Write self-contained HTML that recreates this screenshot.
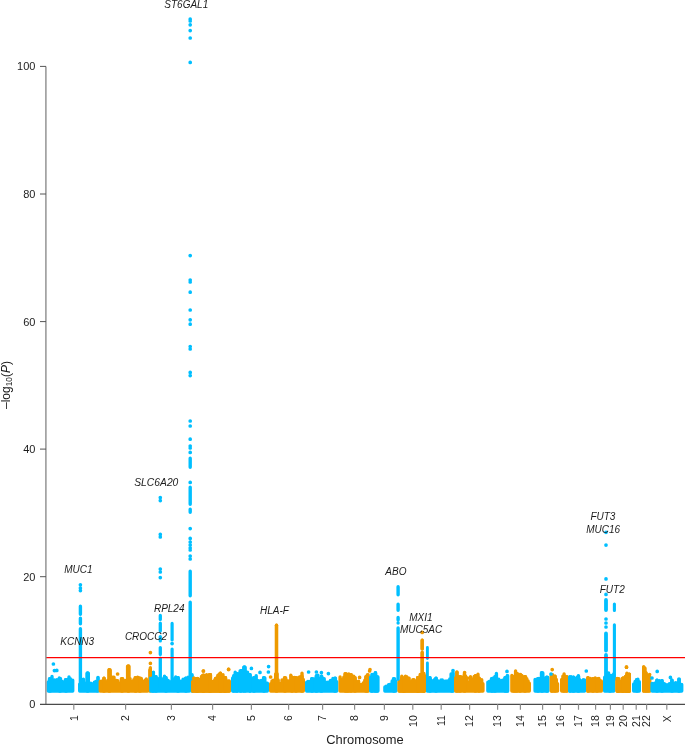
<!DOCTYPE html>
<html><head><meta charset="utf-8"><title>Manhattan plot</title>
<style>html,body{margin:0;padding:0;background:#fff}svg{display:block}text{font-family:"Liberation Sans",Arial,sans-serif;fill:#1c1c1c}.g{font-style:italic;font-size:10px;text-anchor:middle}.t{font-size:10.5px;text-anchor:end}.y{font-size:11px;text-anchor:end}</style></head><body>
<svg width="685" height="744" viewBox="0 0 685 744">
<rect width="685" height="744" fill="#fff"/>
<path d="M48.3 681.9V691.1M49.5 678.8V691.1M50.7 678.9V691.1M52.0 676.4V691.1M53.2 679.9V691.1M54.4 679.9V691.1M55.6 680.9V691.1M56.8 679.6V691.1M58.1 680.2V691.1M59.3 678.0V691.1M60.5 678.8V691.1M61.7 681.2V691.1M62.9 682.1V691.1M64.2 681.7V691.1M65.4 679.8V691.1M66.6 679.8V691.1M67.8 681.0V691.1M69.0 677.0V691.1M70.3 678.7V691.1M71.5 682.0V691.1M72.7 680.3V691.1M79.7 684.1V691.1M80.9 684.5V691.1M82.2 684.3V691.1M83.4 679.1V691.1M84.6 683.3V691.1M85.8 684.4V691.1M87.1 673.2V691.1M88.3 673.3V691.1M89.5 683.6V691.1M90.8 683.3V691.1M92.0 684.7V691.1M93.2 683.8V691.1M94.4 682.2V691.1M95.7 681.5V691.1M96.9 682.0V691.1" stroke="#00BFFF" stroke-width="3.4" stroke-linecap="round" fill="none"/>
<path d="M87.6 673.2V690.9M98.0 677.5V690.9M50.0 678.9V690.9M60.0 678.9V690.9M66.0 679.9V690.9" stroke="#00BFFF" stroke-width="3.7" stroke-linecap="round" fill="none"/>
<path d="M100.3 681.4V691.1M101.5 681.1V691.1M102.8 681.0V691.1M104.0 678.2V691.1M105.3 681.6V691.1M106.5 681.6V691.1M107.8 680.2V691.1M109.0 669.8V691.1M110.2 669.9V691.1M111.5 682.2V691.1M112.7 677.2V691.1M114.0 677.2V691.1M115.2 680.9V691.1M116.4 680.4V691.1M117.7 680.6V691.1M118.9 683.2V691.1M120.2 683.8V691.1M121.4 678.8V691.1M122.7 678.8V691.1M123.9 682.7V691.1M125.1 680.8V691.1M126.4 680.3V691.1M127.6 666.3V691.1M128.9 666.2V691.1M130.1 678.7V691.1M131.4 681.4V691.1M132.6 681.6V691.1M133.8 679.7V691.1M135.1 677.8V691.1M136.3 677.9V691.1M137.6 677.2V691.1M138.8 677.7V691.1M140.0 678.2V691.1M141.3 678.5V691.1M142.5 681.6V691.1M143.8 681.8V691.1M145.0 680.1V691.1M146.3 678.9V691.1M147.5 680.9V691.1" stroke="#EE9A00" stroke-width="3.4" stroke-linecap="round" fill="none"/>
<path d="M109.4 669.9V690.9M128.4 666.2V690.9M135.6 677.9V690.9M150.0 669.9V690.9M104.0 678.4V690.9M140.0 678.4V690.9M122.0 678.9V690.9" stroke="#EE9A00" stroke-width="3.7" stroke-linecap="round" fill="none"/>
<path d="M150.9 674.4V691.1M152.1 674.4V691.1M153.4 672.1V691.1M154.6 677.2V691.1M155.9 676.7V691.1M157.1 678.7V691.1M158.3 678.6V691.1M159.6 679.1V691.1M160.8 681.1V691.1M162.0 679.0V691.1M163.3 680.2V691.1M164.5 676.3V691.1M165.8 677.7V691.1M167.0 681.2V691.1M168.2 680.4V691.1M169.5 681.9V691.1M170.7 681.6V691.1M172.0 681.0V691.1M173.2 680.5V691.1M174.4 678.7V691.1M175.7 676.9V691.1M176.9 680.8V691.1M178.2 677.7V691.1M179.4 681.1V691.1M180.6 681.2V691.1M181.9 681.6V691.1M183.1 679.2V691.1M184.3 679.6V691.1M185.6 678.3V691.1M186.8 678.4V691.1M188.1 677.3V691.1M189.3 677.9V691.1" stroke="#00BFFF" stroke-width="3.4" stroke-linecap="round" fill="none"/>
<path d="M153.0 674.4V690.9M156.0 676.9V690.9M166.0 677.9V690.9M178.0 677.9V690.9M186.0 678.4V690.9M192.0 674.9V690.9" stroke="#00BFFF" stroke-width="3.7" stroke-linecap="round" fill="none"/>
<path d="M192.7 681.7V691.1M194.0 681.8V691.1M195.2 681.4V691.1M196.5 678.7V691.1M197.7 678.5V691.1M199.0 681.2V691.1M200.3 679.3V691.1M201.5 678.9V691.1M202.8 675.4V691.1M204.1 675.4V691.1M205.3 679.0V691.1M206.6 674.7V691.1M207.8 675.5V691.1M209.1 675.0V691.1M210.4 674.7V691.1M211.6 681.4V691.1M212.9 681.5V691.1M214.2 680.8V691.1M215.4 678.4V691.1M216.7 678.0V691.1M217.9 675.2V691.1M219.2 674.3V691.1M220.5 676.2V691.1M221.7 679.3V691.1M223.0 679.6V691.1M224.3 677.9V691.1M225.5 677.8V691.1M226.8 681.6V691.1M228.0 680.9V691.1M229.3 681.0V691.1" stroke="#EE9A00" stroke-width="3.4" stroke-linecap="round" fill="none"/>
<path d="M203.4 675.4V690.9M210.0 674.9V690.9M220.4 676.4V690.9M225.0 677.9V690.9M197.0 678.9V690.9" stroke="#EE9A00" stroke-width="3.7" stroke-linecap="round" fill="none"/>
<path d="M232.7 678.0V691.1M233.9 675.7V691.1M235.2 672.3V691.1M236.4 673.8V691.1M237.6 673.8V691.1M238.9 674.2V691.1M240.1 671.0V691.1M241.3 670.7V691.1M242.6 673.9V691.1M243.8 667.2V691.1M245.1 667.3V691.1M246.3 673.0V691.1M247.5 672.1V691.1M248.8 677.4V691.1M250.0 674.7V691.1M251.2 678.8V691.1M252.5 679.6V691.1M253.7 677.7V691.1M254.9 678.0V691.1M256.2 675.7V691.1M257.4 680.6V691.1M258.6 680.6V691.1M259.9 682.5V691.1M261.1 680.4V691.1M262.4 682.6V691.1M263.6 677.8V691.1M264.8 677.9V691.1M266.1 682.9V691.1M267.3 683.1V691.1" stroke="#00BFFF" stroke-width="3.4" stroke-linecap="round" fill="none"/>
<path d="M244.4 667.2V690.9M241.0 670.9V690.9M237.0 673.9V690.9M234.0 675.9V690.9M250.0 674.9V690.9M254.0 677.9V690.9M264.0 677.9V690.9" stroke="#00BFFF" stroke-width="3.7" stroke-linecap="round" fill="none"/>
<path d="M270.7 683.8V691.1M272.0 681.0V691.1M273.2 680.1V691.1M274.5 681.5V691.1M275.7 673.9V691.1M277.0 673.8V691.1M278.2 679.9V691.1M279.5 684.4V691.1M280.7 683.4V691.1M282.0 680.0V691.1M283.2 681.7V691.1M284.5 677.8V691.1M285.7 677.9V691.1M287.0 681.0V691.1M288.3 680.9V691.1M289.5 681.0V691.1M290.8 675.2V691.1M292.0 677.2V691.1M293.3 677.6V691.1M294.5 677.5V691.1M295.8 677.7V691.1M297.0 678.0V691.1M298.3 677.8V691.1M299.5 677.0V691.1M300.8 676.6V691.1M302.0 673.2V691.1M303.3 679.5V691.1" stroke="#EE9A00" stroke-width="3.4" stroke-linecap="round" fill="none"/>
<path d="M276.5 673.9V690.9M285.0 677.9V690.9M292.0 677.4V690.9M296.0 677.9V690.9M302.0 676.4V690.9" stroke="#EE9A00" stroke-width="3.7" stroke-linecap="round" fill="none"/>
<path d="M306.7 682.2V691.1M307.9 681.5V691.1M309.2 681.5V691.1M310.4 683.5V691.1M311.7 678.7V691.1M312.9 679.0V691.1M314.2 678.9V691.1M315.4 680.9V691.1M316.7 675.7V691.1M317.9 675.1V691.1M319.2 680.8V691.1M320.4 678.5V691.1M321.7 676.2V691.1M322.9 678.7V691.1M324.2 678.8V691.1M325.4 682.2V691.1M326.7 682.4V691.1M327.9 682.2V691.1M329.2 682.5V691.1M330.4 680.4V691.1M331.7 681.2V691.1M332.9 678.4V691.1M334.2 678.4V691.1M335.4 678.3V691.1M336.7 681.7V691.1" stroke="#00BFFF" stroke-width="3.4" stroke-linecap="round" fill="none"/>
<path d="M316.4 675.9V690.9M321.4 676.4V690.9M312.0 678.9V690.9M335.0 678.4V690.9" stroke="#00BFFF" stroke-width="3.7" stroke-linecap="round" fill="none"/>
<path d="M340.1 676.9V691.1M341.3 680.5V691.1M342.6 679.7V691.1M343.8 677.2V691.1M345.0 673.8V691.1M346.3 673.9V691.1M347.5 676.8V691.1M348.8 674.0V691.1M350.0 676.9V691.1M351.2 674.7V691.1M352.5 676.5V691.1M353.7 676.1V691.1M354.9 677.7V691.1M356.2 681.4V691.1M357.4 683.0V691.1M358.6 681.3V691.1M359.9 684.5V691.1M361.1 684.4V691.1M362.4 684.2V691.1M363.6 682.6V691.1M364.8 680.3V691.1M366.1 676.7V691.1M367.3 674.9V691.1" stroke="#EE9A00" stroke-width="3.4" stroke-linecap="round" fill="none"/>
<path d="M345.6 673.9V690.9M351.0 674.9V690.9M348.0 676.9V690.9M355.0 677.9V690.9M366.0 676.9V690.9M368.0 674.9V690.9" stroke="#EE9A00" stroke-width="3.7" stroke-linecap="round" fill="none"/>
<path d="M370.7 677.1V691.1M371.9 674.5V691.1M373.1 674.4V691.1M374.3 678.3V691.1M375.5 672.7V691.1M376.7 676.7V691.1M377.9 677.0V691.1M384.9 687.0V691.1M386.1 686.3V691.1M387.3 686.1V691.1M388.6 684.6V691.1M389.8 684.4V691.1M391.0 684.2V691.1M392.2 681.0V691.1M393.5 678.8V691.1M394.7 678.9V691.1M395.9 681.3V691.1" stroke="#00BFFF" stroke-width="3.4" stroke-linecap="round" fill="none"/>
<path d="M375.4 672.9V690.9M372.0 676.9V690.9M377.0 676.9V690.9M394.0 678.9V690.9" stroke="#00BFFF" stroke-width="3.7" stroke-linecap="round" fill="none"/>
<path d="M399.3 680.9V691.1M400.5 680.9V691.1M401.8 678.0V691.1M403.0 681.3V691.1M404.2 677.8V691.1M405.5 681.6V691.1M406.7 681.1V691.1M407.9 678.0V691.1M409.1 678.3V691.1M410.4 682.2V691.1M411.6 682.8V691.1M412.8 679.8V691.1M414.1 679.7V691.1M415.3 681.7V691.1M416.5 681.2V691.1M417.8 677.7V691.1M419.0 680.1V691.1M420.2 674.4V691.1M421.4 678.8V691.1M422.7 678.9V691.1M423.9 673.4V691.1" stroke="#EE9A00" stroke-width="3.4" stroke-linecap="round" fill="none"/>
<path d="M404.0 678.9V690.9M418.0 677.9V690.9M424.0 675.9V690.9" stroke="#EE9A00" stroke-width="3.7" stroke-linecap="round" fill="none"/>
<path d="M427.3 678.1V691.1M428.6 679.4V691.1M429.8 677.7V691.1M431.1 680.1V691.1M432.3 680.9V691.1M433.6 680.9V691.1M434.8 679.2V691.1M436.1 678.2V691.1M437.3 680.5V691.1M438.6 681.4V691.1M439.8 681.2V691.1M441.1 679.9V691.1M442.3 679.9V691.1M443.6 681.3V691.1M444.8 681.2V691.1M446.1 681.3V691.1M447.3 681.0V691.1M448.6 681.1V691.1M449.8 678.9V691.1M451.1 674.0V691.1M452.3 675.7V691.1" stroke="#00BFFF" stroke-width="3.4" stroke-linecap="round" fill="none"/>
<path d="M430.0 677.9V690.9M436.0 678.4V690.9M452.0 675.9V690.9M453.0 672.9V690.9" stroke="#00BFFF" stroke-width="3.7" stroke-linecap="round" fill="none"/>
<path d="M455.7 677.7V691.1M456.9 672.0V691.1M458.2 678.7V691.1M459.4 676.8V691.1M460.6 676.8V691.1M461.9 677.3V691.1M463.1 677.5V691.1M464.4 673.7V691.1M465.6 676.1V691.1M466.8 679.7V691.1M468.1 683.1V691.1M469.3 682.1V691.1M470.5 676.6V691.1M471.8 679.0V691.1M473.0 678.9V691.1M474.2 676.5V691.1M475.5 675.7V691.1M476.7 676.2V691.1M478.0 674.3V691.1M479.2 678.2V691.1M480.4 680.8V691.1M481.7 679.8V691.1M482.9 683.8V691.1" stroke="#EE9A00" stroke-width="3.4" stroke-linecap="round" fill="none"/>
<path d="M457.0 674.9V690.9M460.0 676.9V690.9M464.6 674.9V690.9M475.4 675.9V690.9M479.0 678.4V690.9" stroke="#EE9A00" stroke-width="3.7" stroke-linecap="round" fill="none"/>
<path d="M487.9 682.1V691.1M489.1 681.4V691.1M490.3 681.2V691.1M491.5 678.8V691.1M492.8 678.2V691.1M494.0 678.1V691.1M495.2 676.7V691.1M496.4 673.5V691.1M497.6 680.2V691.1M498.8 679.2V691.1M500.0 682.8V691.1M501.2 680.7V691.1M502.4 680.2V691.1M503.7 680.9V691.1M504.9 677.8V691.1M506.1 677.9V691.1M507.3 675.7V691.1" stroke="#00BFFF" stroke-width="3.4" stroke-linecap="round" fill="none"/>
<path d="M495.0 676.9V690.9M492.0 678.9V690.9M505.4 677.9V690.9M507.5 675.9V690.9" stroke="#00BFFF" stroke-width="3.7" stroke-linecap="round" fill="none"/>
<path d="M511.9 675.4V691.1M513.1 676.9V691.1M514.4 676.7V691.1M515.6 671.0V691.1M516.9 673.4V691.1M518.1 673.9V691.1M519.4 678.6V691.1M520.6 674.4V691.1M521.8 675.5V691.1M523.1 679.5V691.1M524.3 676.8V691.1M525.6 676.8V691.1M526.8 678.7V691.1M528.1 681.0V691.1M529.3 683.2V691.1" stroke="#EE9A00" stroke-width="3.4" stroke-linecap="round" fill="none"/>
<path d="M516.6 673.9V690.9M514.0 676.9V690.9M525.0 676.9V690.9M520.0 678.9V690.9" stroke="#EE9A00" stroke-width="3.7" stroke-linecap="round" fill="none"/>
<path d="M535.1 679.5V691.1M536.4 681.4V691.1M537.7 678.7V691.1M538.9 678.4V691.1M540.2 678.7V691.1M541.5 672.8V691.1M542.8 672.9V691.1M544.1 677.9V691.1M545.3 679.2V691.1M546.6 677.2V691.1M547.9 677.5V691.1" stroke="#00BFFF" stroke-width="3.4" stroke-linecap="round" fill="none"/>
<path d="M542.0 672.9V690.9M538.0 678.9V690.9M547.0 677.4V690.9" stroke="#00BFFF" stroke-width="3.7" stroke-linecap="round" fill="none"/>
<path d="M551.3 674.9V691.1M552.5 674.8V691.1M553.8 679.2V691.1M555.0 676.2V691.1M556.3 679.5V691.1M557.5 683.8V691.1M561.7 679.4V691.1M562.9 676.1V691.1M564.1 673.9V691.1M565.3 678.8V691.1M566.5 676.8V691.1" stroke="#EE9A00" stroke-width="3.4" stroke-linecap="round" fill="none"/>
<path d="M555.0 676.4V690.9M552.0 674.9V690.9M564.0 676.4V690.9M567.0 676.9V690.9" stroke="#EE9A00" stroke-width="3.7" stroke-linecap="round" fill="none"/>
<path d="M569.9 676.7V691.1M571.1 676.7V691.1M572.3 678.4V691.1M573.6 677.2V691.1M574.8 679.2V691.1M576.0 678.2V691.1M577.2 677.1V691.1M578.4 675.7V691.1M579.6 679.7V691.1M580.9 680.8V691.1M582.1 681.3V691.1M583.3 679.8V691.1M584.5 679.9V691.1" stroke="#00BFFF" stroke-width="3.4" stroke-linecap="round" fill="none"/>
<path d="M573.4 677.4V690.9M578.4 676.4V690.9M570.0 677.4V690.9" stroke="#00BFFF" stroke-width="3.7" stroke-linecap="round" fill="none"/>
<path d="M587.9 677.7V691.1M589.1 678.8V691.1M590.3 678.4V691.1M591.6 680.9V691.1M592.8 678.7V691.1M594.0 679.9V691.1M595.2 678.0V691.1M596.4 679.3V691.1M597.6 678.6V691.1M598.9 678.4V691.1M600.1 680.4V691.1M601.3 680.9V691.1" stroke="#EE9A00" stroke-width="3.4" stroke-linecap="round" fill="none"/>
<path d="M588.0 677.9V690.9M593.0 678.9V690.9M597.0 679.4V690.9" stroke="#EE9A00" stroke-width="3.7" stroke-linecap="round" fill="none"/>
<path d="M604.7 677.3V691.1M606.0 677.0V691.1M607.3 673.1V691.1M608.6 672.9V691.1M609.8 675.7V691.1M611.1 675.5V691.1M612.4 676.9V691.1M613.7 674.0V691.1" stroke="#00BFFF" stroke-width="3.4" stroke-linecap="round" fill="none"/>
<path d="M610.0 675.9V690.9" stroke="#00BFFF" stroke-width="3.7" stroke-linecap="round" fill="none"/>
<path d="M617.1 679.0V691.1M618.3 678.7V691.1M619.5 682.0V691.1M620.8 683.6V691.1M622.0 681.5V691.1M623.2 678.2V691.1M624.4 681.1V691.1M625.6 676.4V691.1M626.9 673.2V691.1M628.1 674.6V691.1M629.3 674.3V691.1" stroke="#EE9A00" stroke-width="3.4" stroke-linecap="round" fill="none"/>
<path d="M629.0 674.5V690.9M626.5 676.4V690.9M623.0 678.4V690.9M618.0 678.9V690.9" stroke="#EE9A00" stroke-width="3.7" stroke-linecap="round" fill="none"/>
<path d="M633.7 683.9V691.1M635.1 681.5V691.1M636.5 679.8V691.1M637.9 679.3V691.1M639.3 681.8V691.1" stroke="#00BFFF" stroke-width="3.4" stroke-linecap="round" fill="none"/>
<path d="M637.0 679.9V690.9" stroke="#00BFFF" stroke-width="3.7" stroke-linecap="round" fill="none"/>
<path d="M643.7 666.6V691.1M645.0 668.2V691.1M646.2 672.9V691.1M647.4 675.7V691.1M648.7 678.2V691.1" stroke="#EE9A00" stroke-width="3.4" stroke-linecap="round" fill="none"/>
<path d="M644.0 667.9V690.9M645.5 672.9V690.9M647.5 675.9V690.9M649.6 676.9V690.9" stroke="#EE9A00" stroke-width="3.7" stroke-linecap="round" fill="none"/>
<path d="M652.1 683.4V691.1M653.3 684.4V691.1M654.6 683.3V691.1M655.8 683.8V691.1M657.0 680.2V691.1M658.3 682.0V691.1M659.5 680.8V691.1M660.7 685.1V691.1M662.0 680.7V691.1M663.2 685.7V691.1M664.4 683.7V691.1M665.7 685.4V691.1M666.9 684.8V691.1M668.1 684.8V691.1M669.4 683.6V691.1M670.6 684.2V691.1M671.8 680.2V691.1M673.1 684.1V691.1M674.3 683.8V691.1M675.5 682.8V691.1M676.8 683.0V691.1M678.0 684.0V691.1M679.2 679.7V691.1M680.5 685.1V691.1M681.7 684.5V691.1" stroke="#00BFFF" stroke-width="3.4" stroke-linecap="round" fill="none"/>
<path d="M657.0 680.4V690.9M662.0 680.9V690.9M672.0 680.4V690.9M679.0 679.9V690.9" stroke="#00BFFF" stroke-width="3.7" stroke-linecap="round" fill="none"/>
<path d="M117.6 674.0h0M150.4 652.6h0M150.4 663.3h0M203.4 671.0h0M228.6 669.4h0M194.0 678.4h0M220.4 673.4h0M270.6 677.0h0M359.6 677.4h0M370.0 669.6h0M369.6 671.0h0M457.0 672.6h0M464.6 672.6h0M467.4 678.0h0M552.2 669.6h0M626.5 667.2h0M649.6 674.6h0" stroke="#EE9A00" stroke-width="3.7" stroke-linecap="round" fill="none"/>
<path d="M53.4 664.0h0M54.4 670.6h0M56.8 670.4h0M251.4 668.4h0M260.0 672.4h0M268.6 666.6h0M268.4 672.0h0M308.6 672.0h0M316.4 672.0h0M321.4 672.6h0M328.4 673.6h0M453.0 670.6h0M507.0 671.4h0M551.0 674.0h0M586.3 671.0h0M657.2 671.4h0M670.4 677.4h0M652.0 678.0h0M679.0 679.0h0" stroke="#00BFFF" stroke-width="3.7" stroke-linecap="round" fill="none"/>
<path d="M190.2 19.2h0M190.2 21.0h0M190.2 24.8h0M190.2 30.6h0M190.2 38.0h0M190.2 62.4h0M190.2 255.6h0M190.2 280.0h0M190.2 282.0h0M190.2 292.2h0M190.2 310.0h0M190.2 319.8h0M190.2 324.2h0M190.2 346.6h0M190.2 349.0h0M190.2 372.4h0M190.2 375.6h0M190.2 421.0h0M190.2 426.0h0M190.2 439.2h0M190.2 446.0h0M190.2 448.0h0M190.2 452.4h0M190.2 482.4h0M190.2 528.6h0M190.2 538.4h0M190.2 542.0h0M190.2 545.0h0M190.2 548.0h0M190.2 550.0h0M190.2 556.0h0M190.2 559.0h0" stroke="#00BFFF" stroke-width="3.7" stroke-linecap="round" fill="none"/>
<path d="M190.2 458.2V467.3M190.2 487.2V504.3M190.2 509.2V512.3M190.2 571.2V595.8M190.2 602.2V679.3" stroke="#00BFFF" stroke-width="3.4" stroke-linecap="round" fill="none"/>
<path d="M160.3 497.6h0M160.3 500.6h0M160.3 534.4h0M160.3 537.0h0M160.3 569.0h0M160.3 572.0h0M160.3 577.6h0" stroke="#00BFFF" stroke-width="3.7" stroke-linecap="round" fill="none"/>
<path d="M160.3 615.4V619.4M160.3 623.2V631.0M160.3 636.6V640.9M160.3 647.6V654.4M160.3 658.1V688.4" stroke="#00BFFF" stroke-width="3.3" stroke-linecap="round" fill="none"/>
<path d="M172.1 643.6h0" stroke="#00BFFF" stroke-width="3.7" stroke-linecap="round" fill="none"/>
<path d="M172.1 623.4V639.9M172.1 649.1V688.4" stroke="#00BFFF" stroke-width="3.2" stroke-linecap="round" fill="none"/>
<path d="M80.4 584.8h0M80.4 588.0h0M80.4 590.6h0" stroke="#00BFFF" stroke-width="3.7" stroke-linecap="round" fill="none"/>
<path d="M80.4 606.3V614.3M80.4 618.2V623.8M80.4 628.7V688.3" stroke="#00BFFF" stroke-width="3.4" stroke-linecap="round" fill="none"/>
<path d="M276.5 625.2V688.4" stroke="#EE9A00" stroke-width="3.3" stroke-linecap="round" fill="none"/>
<path d="M398.1 586.7V594.8M398.1 604.2V610.3M398.1 617.5V619.9M398.1 623.1V623.0M398.1 627.9V679.3" stroke="#00BFFF" stroke-width="3.4" stroke-linecap="round" fill="none"/>
<path d="M422.2 632.4h0" stroke="#EE9A00" stroke-width="3.7" stroke-linecap="round" fill="none"/>
<path d="M422.2 640.2V648.9M422.2 652.4V688.4" stroke="#EE9A00" stroke-width="3.3" stroke-linecap="round" fill="none"/>
<path d="M427.4 647.5V658.5M427.4 663.0V688.5" stroke="#00BFFF" stroke-width="2.9" stroke-linecap="round" fill="none"/>
<path d="M606.0 532.3h0M606.0 545.1h0M606.0 578.9h0M606.0 594.4h0M606.0 619.0h0M606.0 623.0h0M606.0 627.0h0" stroke="#00BFFF" stroke-width="3.7" stroke-linecap="round" fill="none"/>
<path d="M606.0 599.9V610.1M606.0 633.4V650.6M606.0 654.9V688.1" stroke="#00BFFF" stroke-width="3.8" stroke-linecap="round" fill="none"/>
<path d="M614.4 604.0V610.5M614.4 624.8V679.5" stroke="#00BFFF" stroke-width="3.1" stroke-linecap="round" fill="none"/>
<path d="M192.7 682.0V691.1M194.0 681.6V691.1M195.2 680.8V691.1M196.5 678.8V691.1M197.7 678.9V691.1M199.0 679.7V691.1M200.3 680.3V691.1M201.5 676.5V691.1M202.8 675.4V691.1M204.1 675.4V691.1M205.3 675.9V691.1M206.6 679.5V691.1M207.8 677.7V691.1M209.1 675.0V691.1M210.4 674.7V691.1M211.6 682.7V691.1M212.9 682.3V691.1M214.2 681.4V691.1M215.4 678.9V691.1M216.7 678.6V691.1M217.9 676.5V691.1M219.2 679.5V691.1M220.5 676.2V691.1M221.7 675.4V691.1M223.0 674.7V691.1M224.3 677.9V691.1M225.5 677.8V691.1M226.8 681.6V691.1M228.0 681.6V691.1M229.3 682.1V691.1" stroke="#EE9A00" stroke-width="3.4" stroke-linecap="round" fill="none"/>
<path d="M203.4 675.4V690.9M210.0 674.9V690.9M220.4 676.4V690.9M225.0 677.9V690.9M197.0 678.9V690.9" stroke="#EE9A00" stroke-width="3.7" stroke-linecap="round" fill="none"/>
<path d="M399.3 682.2V691.1M400.5 682.2V691.1M401.8 676.3V691.1M403.0 681.2V691.1M404.2 678.7V691.1M405.5 676.1V691.1M406.7 676.8V691.1M407.9 682.6V691.1M409.1 680.8V691.1M410.4 681.6V691.1M411.6 681.9V691.1M412.8 680.6V691.1M414.1 682.2V691.1M415.3 681.5V691.1M416.5 681.3V691.1M417.8 677.7V691.1M419.0 680.3V691.1M420.2 676.2V691.1M421.4 679.2V691.1M422.7 678.5V691.1M423.9 675.7V691.1" stroke="#EE9A00" stroke-width="3.4" stroke-linecap="round" fill="none"/>
<path d="M404.0 678.9V690.9M418.0 677.9V690.9M424.0 675.9V690.9" stroke="#EE9A00" stroke-width="3.7" stroke-linecap="round" fill="none"/>
<path d="M617.1 678.4V691.1M618.3 678.7V691.1M619.5 682.4V691.1M620.8 681.3V691.1M622.0 678.6V691.1M623.2 678.2V691.1M624.4 680.9V691.1M625.6 676.4V691.1M626.9 674.6V691.1M628.1 674.6V691.1M629.3 674.3V691.1" stroke="#EE9A00" stroke-width="3.4" stroke-linecap="round" fill="none"/>
<path d="M629.0 674.5V690.9M626.5 676.4V690.9M623.0 678.4V690.9M618.0 678.9V690.9" stroke="#EE9A00" stroke-width="3.7" stroke-linecap="round" fill="none"/>
<path d="M150.4 667.6V675.4" stroke="#EE9A00" stroke-width="3.2" stroke-linecap="round" fill="none"/>
<path d="M276.5 625.2V688.4" stroke="#EE9A00" stroke-width="3.3" stroke-linecap="round" fill="none"/>
<path d="M422.2 640.2V648.9M422.2 652.4V688.4" stroke="#EE9A00" stroke-width="3.3" stroke-linecap="round" fill="none"/>
<path d="M203.4 671.0h0M228.6 669.4h0M194.0 678.4h0M220.4 673.4h0M626.5 667.2h0" stroke="#EE9A00" stroke-width="3.7" stroke-linecap="round" fill="none"/>
<line x1="46" y1="657.6" x2="685" y2="657.6" stroke="#FF0000" stroke-width="1.3"/>
<line x1="45.9" y1="66.4" x2="45.9" y2="704.8" stroke="#8c8c8c" stroke-width="1.4"/>
<line x1="40" y1="704.4" x2="685" y2="704.4" stroke="#4a4a4a" stroke-width="1.2"/>
<text class="y" x="35.4" y="708.25">0</text>
<line x1="40" y1="576.7" x2="46" y2="576.7" stroke="#555" stroke-width="1"/>
<text class="y" x="35.4" y="580.65">20</text>
<line x1="40" y1="449.1" x2="46" y2="449.1" stroke="#555" stroke-width="1"/>
<text class="y" x="35.4" y="453.05">40</text>
<line x1="40" y1="321.6" x2="46" y2="321.6" stroke="#555" stroke-width="1"/>
<text class="y" x="35.4" y="325.55">60</text>
<line x1="40" y1="194.0" x2="46" y2="194.0" stroke="#555" stroke-width="1"/>
<text class="y" x="35.4" y="197.95">80</text>
<line x1="40" y1="66.4" x2="46" y2="66.4" stroke="#555" stroke-width="1"/>
<text class="y" x="35.4" y="70.35">100</text>
<path d="M73.8 704.3V709.8M125.6 704.3V709.8M171.4 704.3V709.8M212.6 704.3V709.8M251.4 704.3V709.8M288.6 704.3V709.8M322.6 704.3V709.8M354.6 704.3V709.8M384.4 704.3V709.8M412.8 704.3V709.8M441.2 704.3V709.8M469.6 704.3V709.8M497.6 704.3V709.8M520.4 704.3V709.8M542.6 704.3V709.8M560.4 704.3V709.8M578.5 704.3V709.8M595.6 704.3V709.8M610.4 704.3V709.8M623.2 704.3V709.8M636.2 704.3V709.8M646.6 704.3V709.8M666.8 704.3V709.8" stroke="#8c8c8c" stroke-width="1.2" fill="none"/>
<text class="t" transform="translate(77.6 715.2) rotate(-90)">1</text>
<text class="t" transform="translate(129.4 715.2) rotate(-90)">2</text>
<text class="t" transform="translate(175.2 715.2) rotate(-90)">3</text>
<text class="t" transform="translate(216.4 715.2) rotate(-90)">4</text>
<text class="t" transform="translate(255.2 715.2) rotate(-90)">5</text>
<text class="t" transform="translate(292.4 715.2) rotate(-90)">6</text>
<text class="t" transform="translate(326.4 715.2) rotate(-90)">7</text>
<text class="t" transform="translate(358.4 715.2) rotate(-90)">8</text>
<text class="t" transform="translate(388.2 715.2) rotate(-90)">9</text>
<text class="t" transform="translate(416.6 715.2) rotate(-90)">10</text>
<text class="t" transform="translate(445.0 715.2) rotate(-90)">11</text>
<text class="t" transform="translate(473.4 715.2) rotate(-90)">12</text>
<text class="t" transform="translate(501.4 715.2) rotate(-90)">13</text>
<text class="t" transform="translate(524.2 715.2) rotate(-90)">14</text>
<text class="t" transform="translate(546.4 715.2) rotate(-90)">15</text>
<text class="t" transform="translate(564.2 715.2) rotate(-90)">16</text>
<text class="t" transform="translate(582.3 715.2) rotate(-90)">17</text>
<text class="t" transform="translate(599.4 715.2) rotate(-90)">18</text>
<text class="t" transform="translate(614.2 715.2) rotate(-90)">19</text>
<text class="t" transform="translate(627.0 715.2) rotate(-90)">20</text>
<text class="t" transform="translate(640.0 715.2) rotate(-90)">21</text>
<text class="t" transform="translate(650.4 715.2) rotate(-90)">22</text>
<text class="t" transform="translate(670.6 715.2) rotate(-90)">X</text>
<text x="365" y="743.6" font-size="12.9" text-anchor="middle">Chromosome</text>
<text transform="translate(9.6 385) rotate(-90)" font-size="12" text-anchor="middle">–log<tspan font-size="8.4" dy="2.5">10</tspan><tspan dy="-2.5">(</tspan><tspan font-style="italic">P</tspan>)</text>
<text class="g" x="186.3" y="8.0">ST6GAL1</text>
<text class="g" style="font-size:10.3px" x="156.3" y="486.4">SLC6A20</text>
<text class="g" x="78.4" y="572.9">MUC1</text>
<text class="g" x="77.2" y="644.8">KCNN3</text>
<text class="g" x="146" y="640.4">CROCC2</text>
<text class="g" x="169.2" y="612.4">RPL24</text>
<text class="g" x="274.5" y="613.6">HLA-F</text>
<text class="g" x="395.9" y="574.8">ABO</text>
<text class="g" x="420.8" y="620.5">MXI1</text>
<text class="g" x="421" y="632.5">MUC5AC</text>
<text class="g" x="602.9" y="520.4">FUT3</text>
<text class="g" x="603.1" y="532.7">MUC16</text>
<text class="g" x="612.2" y="593.0">FUT2</text>
</svg></body></html>
